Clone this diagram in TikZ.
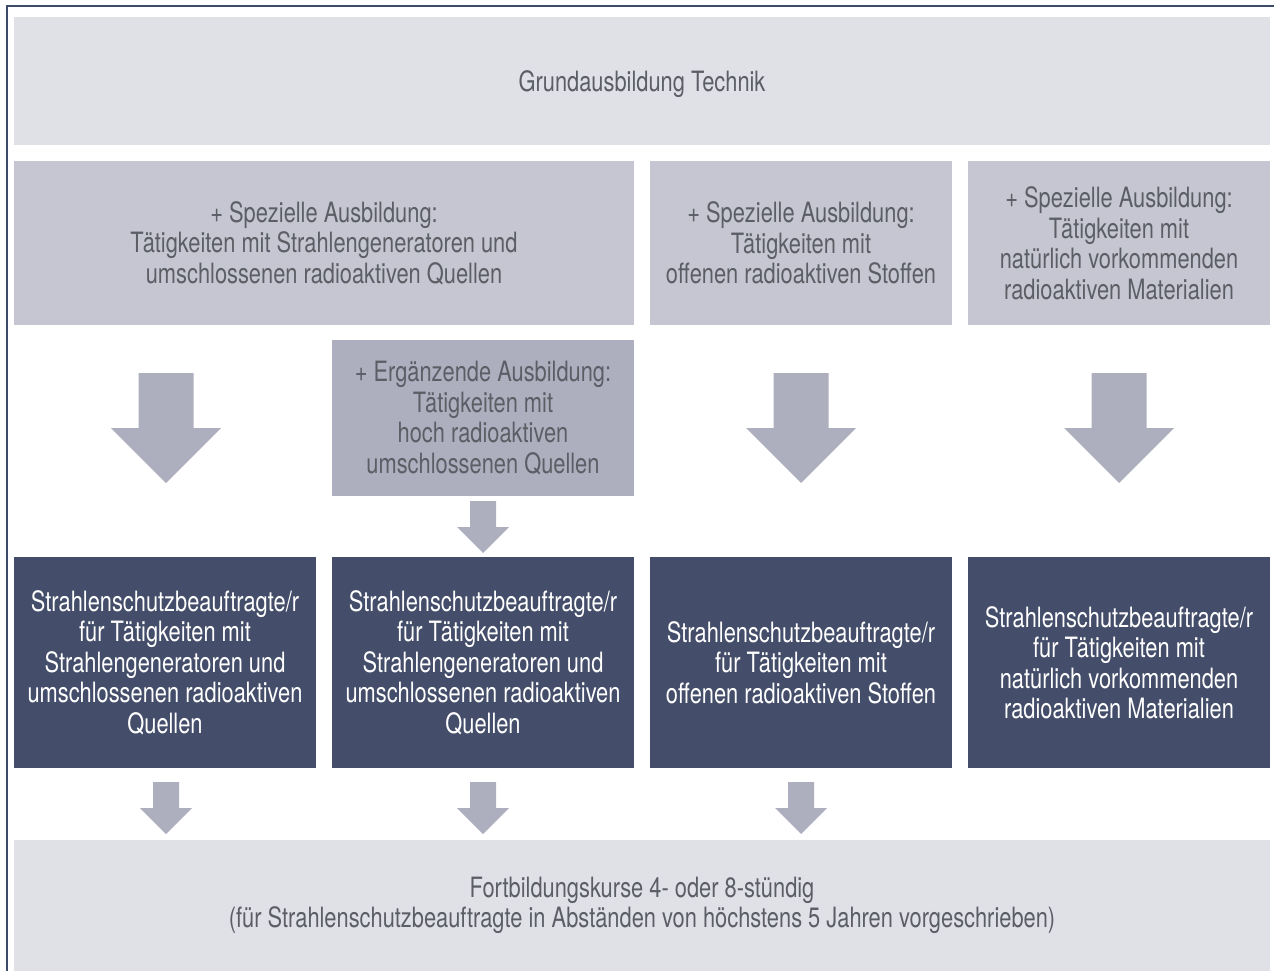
\documentclass[tikz,border=0pt]{standalone}
\usepackage{fontspec}
\setmainfont{TeX Gyre Heros}[FakeStretch=0.78]
\definecolor{hell}{HTML}{E0E1E6}
\definecolor{mittel}{HTML}{C5C6D1}
\definecolor{pfeilgrau}{HTML}{ADAFBE}
\definecolor{dunkel}{HTML}{444E6A}
\definecolor{schrift}{HTML}{5C5E66}
\definecolor{rahmen}{HTML}{3E4A6A}
\begin{document}
\begin{tikzpicture}[x=1pt, y=-1pt,
	kasten/.style={fill=#1, text=schrift, align=center, inner sep=0pt, font=\fontsize{28}{30.5}\selectfont},
	breit/.style={minimum width=1256, minimum height=#1},
	schmal/.style={minimum width=302, minimum height=#1},
	pfeil/.pic={\fill[pfeilgrau] (-.25,0) -- (.25,0) -- (.25,.5) -- (.5,.5) -- (0,1) -- (-.5,.5) -- (-.25,.5) -- cycle;}]
	\useasboundingbox (0,0) rectangle (1274,971);
	\draw[rahmen, line width=1.5] (7,971) -- (7,6) -- (1274,6);
	\node[kasten=hell, breit=128, text depth=0pt] (grund) at (642,81) {Grundausbildung Technik};
	\node[kasten=mittel, minimum width=620, minimum height=164] (spez1) at (324,243) {+ Spezielle Ausbildung:\\Tätigkeiten mit Strahlengeneratoren und\\umschlossenen radioaktiven Quellen};
	\node[kasten=mittel, schmal=164] (spez2) at (801,243) {+ Spezielle Ausbildung:\\Tätigkeiten mit\\offenen radioaktiven Stoffen};
	\node[kasten=mittel, schmal=164] (spez3) at (1119,243) {+ Spezielle Ausbildung:\\Tätigkeiten mit\\natürlich vorkommenden\\radioaktiven Materialien};
	\node[kasten=pfeilgrau, schmal=156] (ergaenz) at (483,418) {+ Ergänzende Ausbildung:\\Tätigkeiten mit\\hoch radioaktiven\\umschlossenen Quellen};
	\node[kasten=dunkel, schmal=211, text=white] (sb1) at (165,662.5) {Strahlenschutzbeauftragte/r\\für Tätigkeiten mit\\Strahlengeneratoren und\\umschlossenen radioaktiven\\Quellen};
	\node[kasten=dunkel, schmal=211, text=white] (sb2) at (483,662.5) {Strahlenschutzbeauftragte/r\\für Tätigkeiten mit\\Strahlengeneratoren und\\umschlossenen radioaktiven\\Quellen};
	\node[kasten=dunkel, schmal=211, text=white] (sb3) at (801,662.5) {Strahlenschutzbeauftragte/r\\für Tätigkeiten mit\\offenen radioaktiven Stoffen};
	\node[kasten=dunkel, schmal=211, text=white] (sb4) at (1119,662.5) {Strahlenschutzbeauftragte/r\\für Tätigkeiten mit\\natürlich vorkommenden\\radioaktiven Materialien};
	\node[kasten=hell, breit=131] (fortb) at (642,905.5) {Fortbildungskurse 4- oder 8-stündig\\(für Strahlenschutzbeauftragte in Abständen von höchstens 5 Jahren vorgeschrieben)};
	%Pfeile
	\pic[scale=110] at (166,373) {pfeil};
	\pic[scale=110] at (801,373) {pfeil};
	\pic[scale=110] at (1119,373) {pfeil};
	\pic[scale=52]  at (483,501) {pfeil};
	\pic[scale=52]  at (166,782) {pfeil};
	\pic[scale=52]  at (483,782) {pfeil};
	\pic[scale=52]  at (801,782) {pfeil};
\end{tikzpicture}
\end{document}
